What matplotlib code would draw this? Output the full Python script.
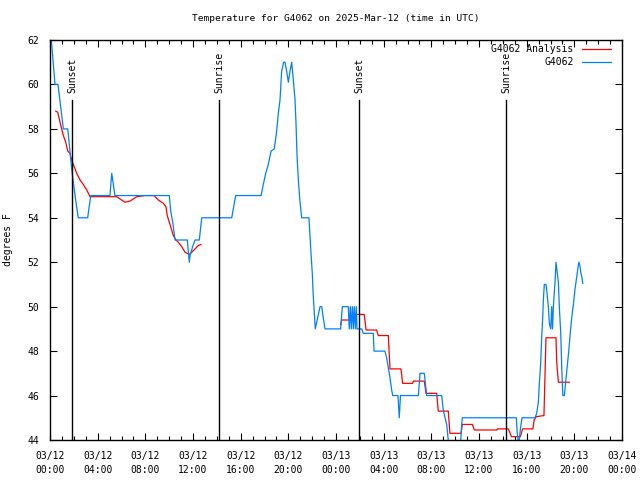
import numpy as np
import matplotlib
matplotlib.use('Agg')
import matplotlib.pyplot as plt
from matplotlib.lines import Line2D

plt.rcParams['font.family'] = 'DejaVu Sans Mono'

# hours after 2025-03-12 00:00 UTC
obs_hours = [0.08, 0.42, 0.67, 1.12, 1.49, 1.82, 2.10, 2.37, 3.16, 3.42, 5.03, 5.18, 5.45,
             10.01, 10.13, 10.30, 10.49, 11.52, 11.69, 11.75, 11.97, 12.17, 12.53, 12.73,
             15.25, 15.58, 17.71, 17.90, 18.10, 18.32, 18.55, 18.82, 19.02, 19.16, 19.30,
             19.44, 19.61, 19.72, 19.86, 20.00, 20.14, 20.28, 20.42, 20.56, 20.64, 20.73,
             20.84, 20.98, 21.12, 21.73, 21.88, 22.01, 22.09, 22.18, 22.26, 22.46, 22.66,
             22.80, 22.93, 23.08, 24.39, 24.53, 25.03, 25.11, 25.20, 25.28, 25.37, 25.45,
             25.53, 25.62, 25.70, 25.76, 26.16, 26.29, 27.13, 27.19, 28.11, 28.25, 28.39,
             28.53, 28.67, 28.76, 29.20, 29.31, 29.41, 30.91, 31.05, 31.41, 31.61, 32.87,
             33.00, 33.15, 33.29, 33.42, 33.56, 34.41, 34.55, 34.60, 39.13, 39.21, 39.33,
             39.50, 39.61, 40.70, 40.84, 40.98, 41.06, 41.18, 41.26, 41.35, 41.40, 41.48,
             41.62, 41.68, 41.82, 41.90, 42.02, 42.10, 42.17, 42.24, 42.38, 42.46, 42.57,
             42.66, 42.74, 42.86, 42.94, 43.03, 43.16, 43.31, 43.41, 43.53, 43.64, 43.78,
             43.92, 44.06, 44.20, 44.28, 44.37, 44.45, 44.54, 44.62, 44.71]
obs_temp = [62.2, 60.0, 60.0, 58.0, 58.0, 56.2, 55.0, 54.0, 54.0, 55.0, 55.0, 56.0, 55.0,
            55.0, 54.3, 53.8, 53.0, 53.0, 52.0, 52.3, 52.7, 53.0, 53.0, 54.0,
            54.0, 55.0, 55.0, 55.5, 56.0, 56.4, 57.0, 57.1, 57.9, 58.7, 59.3,
            60.6, 61.0, 61.0, 60.6, 60.1, 60.6, 61.0, 60.2, 59.3, 58.3, 56.8,
            55.7, 54.7, 54.0, 54.0, 52.6, 51.5, 50.5, 49.7, 49.0, 49.5, 50.0,
            50.0, 49.5, 49.0, 49.0, 50.0, 50.0, 49.0, 50.0, 49.0, 50.0, 49.0,
            50.0, 49.0, 50.0, 49.0, 49.0, 48.8, 48.8, 48.0, 48.0, 47.7, 47.25,
            46.8, 46.25, 46.0, 46.0, 45.0, 46.0, 46.0, 47.0, 47.0, 46.0, 46.0,
            45.35, 45.0, 44.7, 44.0, 43.5, 43.5, 44.7, 45.0, 45.0, 44.3, 43.8,
            44.6, 45.0, 45.0, 45.2, 45.7, 46.5, 47.5, 48.6, 49.55, 50.3, 51.0,
            51.0, 50.75, 50.0, 49.25, 49.0, 50.0, 49.0, 50.0, 51.1, 52.0, 51.5,
            51.1, 50.0, 48.8, 47.3, 46.0, 46.0, 46.8, 47.3, 48.0, 48.7, 49.5,
            50.1, 50.8, 51.35, 51.7, 52.0, 51.9, 51.55, 51.35, 51.05]

ana_hours = [0.48, 0.65, 0.84, 1.12, 1.32, 1.49, 1.68, 1.76, 1.96, 2.24, 2.52, 2.79, 3.08,
             3.36, 5.60, 5.87, 6.29, 6.71, 7.28, 7.97, 8.73, 9.09, 9.51, 9.73, 9.84, 10.01,
             10.21, 10.35, 10.57, 10.77, 11.05, 11.33, 11.69, 11.89, 12.17, 12.44, 12.67,
             18.0,
             24.39, 24.48, 25.45, 25.51, 26.37, 26.52, 27.41, 27.55, 28.39, 28.53, 29.45,
             29.59, 30.43, 30.49, 31.41, 31.55, 32.45, 32.58, 33.42, 33.56, 34.49, 34.60,
             35.44, 35.61, 37.48, 37.57, 38.46, 38.72, 39.47, 39.66, 40.52, 40.63, 40.80,
             41.45, 41.62, 42.46, 42.52, 42.66, 43.57]
ana_temp = [58.8, 58.75, 58.3, 57.7, 57.4, 57.0, 56.9, 56.7, 56.4, 56.0, 55.7, 55.5, 55.25,
            54.95, 54.95, 54.85, 54.7, 54.75, 54.95, 55.0, 55.0, 54.8, 54.65, 54.5, 54.1, 53.8,
            53.45, 53.2, 53.0, 52.9, 52.7, 52.45, 52.35, 52.45, 52.6, 52.75, 52.8,
            np.nan,
            49.2, 49.4, 49.4, 49.65, 49.65, 48.95, 48.95, 48.7, 48.7, 47.2, 47.2,
            46.55, 46.55, 46.65, 46.65, 46.1, 46.1, 45.3, 45.3, 44.3, 44.3, 44.7,
            44.7, 44.45, 44.45, 44.5, 44.5, 44.15, 44.15, 44.5, 44.5, 44.9, 45.05,
            45.1, 48.6, 48.6, 47.5, 46.6, 46.6]

event_hours = [1.87, 14.21, 25.96, 38.29]
event_names = ['Sunset', 'Sunrise', 'Sunset', 'Sunrise']

tick_hours = list(range(0, 49, 4))
tick_labels = ['03/12\n00:00', '03/12\n04:00', '03/12\n08:00', '03/12\n12:00',
               '03/12\n16:00', '03/12\n20:00', '03/13\n00:00', '03/13\n04:00',
               '03/13\n08:00', '03/13\n12:00', '03/13\n16:00', '03/13\n20:00',
               '03/14\n00:00']

red = '#ff0000'
blue = '#0080ff'

fig = plt.figure(figsize=(6.4, 4.8), dpi=100)
ax = fig.add_axes([50/640, 40/480, 572/640, 400/480])

ax.plot(ana_hours, ana_temp, color=red, lw=0.9)
ax.plot(obs_hours, obs_temp, color=blue, lw=0.9)

for h, name in zip(event_hours, event_names):
    ax.plot([h, h], [44, 59.3], color='black', lw=1)
    ax.text(h, 59.6, name, rotation=90, ha='center', va='bottom', fontsize=7)

ax.set_xlim(0, 48)
ax.set_ylim(44, 62)
ax.set_xticks(tick_hours)
ax.set_xticklabels(tick_labels, fontsize=7, linespacing=1.5)
ax.set_xticks(range(0, 49), minor=True)
ax.set_yticks(range(44, 63, 2))
ax.tick_params(axis='y', labelsize=7)
ax.tick_params(which='both', direction='in', top=True, right=True, width=0.8)
ax.tick_params(which='major', length=5, pad=8)
ax.tick_params(which='minor', length=3)
for s in ax.spines.values():
    s.set_linewidth(1)

ax.set_title('Temperature for G4062 on 2025-Mar-12 (time in UTC)', fontsize=6.8, pad=14)
ax.set_ylabel('degrees F', fontsize=7, labelpad=10)

# gnuplot style key: right-justified text, sample line after it
key = [('G4062 Analysis', red), ('G4062', blue)]
for i, (lab, col) in enumerate(key):
    y = 0.978 - i * 0.033
    ax.text(0.915, y, lab, transform=ax.transAxes, ha='right', va='center', fontsize=7)
    ax.add_line(Line2D([0.93, 0.98], [y, y], transform=ax.transAxes, color=col, lw=0.9))

fig.savefig('out.png', dpi=100)
